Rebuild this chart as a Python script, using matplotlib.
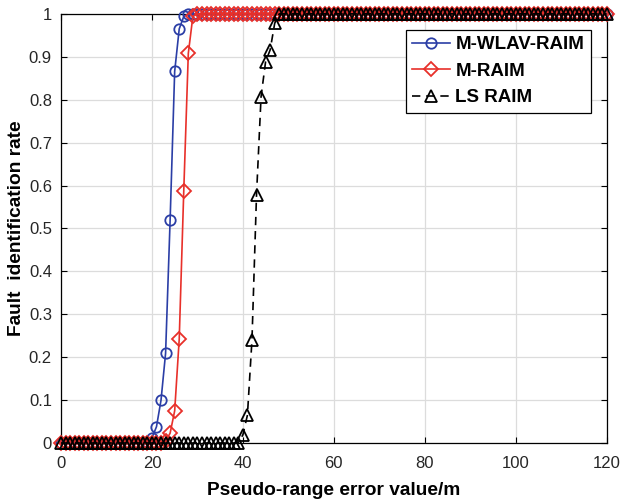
import matplotlib
matplotlib.use("Agg")
import matplotlib.pyplot as plt

plt.rcParams['font.family'] = ['Liberation Sans', 'DejaVu Sans']

x = list(range(0, 121))

# M-WLAV-RAIM
wlav = ([0.0] * 19 +
        [0.003, 0.012, 0.038, 0.100, 0.209, 0.520, 0.866, 0.965, 0.994] +
        [1.0] * 93)
# M-RAIM
mraim = ([0.0] * 23 +
         [0.004, 0.023, 0.075, 0.242, 0.588, 0.908, 0.994] +
         [1.0] * 91)
# LS RAIM
ls = ([0.0] * 39 +
      [0.001, 0.019, 0.065, 0.240, 0.578, 0.807, 0.889, 0.916, 0.978] +
      [1.0] * 73)

labels = ['M-WLAV-RAIM', 'M-RAIM', 'LS RAIM']
xticks = [0, 20, 40, 60, 80, 100, 120]
yticks = [0, 0.1, 0.2, 0.3, 0.4, 0.5, 0.6, 0.7, 0.8, 0.9, 1]
ytick_labels = ['0', '0.1', '0.2', '0.3', '0.4', '0.5', '0.6', '0.7', '0.8', '0.9', '1']

fig = plt.figure(figsize=(6.2, 4.99), dpi=100)
ax = fig.add_axes([0.0984, 0.1122, 0.88, 0.860])

ax.plot(x, wlav, color='#2B3EA6', lw=1.2, marker='o', ms=7.5, mfc='none',
        mec='#2B3EA6', mew=1.3, label=labels[0], clip_on=False, zorder=3)
ax.plot(x, mraim, color='#E8302A', lw=1.2, marker='D', ms=7, mfc='none',
        mec='#E8302A', mew=1.3, label=labels[1], clip_on=False, zorder=4)
ax.plot(x, ls, color='black', lw=1.2, ls=(0, (5, 3.5)), marker='^', ms=9,
        mfc='none', mec='black', mew=1.3, label=labels[2], clip_on=False, zorder=5)

ax.set_xlim(0, 120)
ax.set_ylim(0, 1)
ax.set_xticks(xticks)
ax.set_yticks(yticks)
ax.set_yticklabels(ytick_labels)
ax.tick_params(direction='in', top=True, right=True, labelsize=12, length=4,
               width=0.8, labelcolor='#262626')
ax.tick_params(axis='x', pad=9)
ax.tick_params(axis='y', pad=6.5)
ax.grid(True, color='#DCDCDC', lw=0.9)
ax.set_axisbelow(True)
for s in ax.spines.values():
    s.set_linewidth(0.9)

ax.set_xlabel('Pseudo-range error value/m', fontsize=13.8, fontweight='bold', labelpad=8)
ax.set_ylabel('Fault  identification rate', fontsize=13.8, fontweight='bold', labelpad=2.5)

leg = ax.legend(loc='upper right', bbox_to_anchor=(0.971, 0.963),
                prop={'weight': 'bold', 'size': 13.5}, fancybox=False,
                edgecolor='black', framealpha=1, handlelength=2.0,
                borderpad=0.35, labelspacing=0.5, handletextpad=0.3,
                borderaxespad=0.0)
leg.get_frame().set_linewidth(0.9)

fig.savefig('out.png', dpi=100)
